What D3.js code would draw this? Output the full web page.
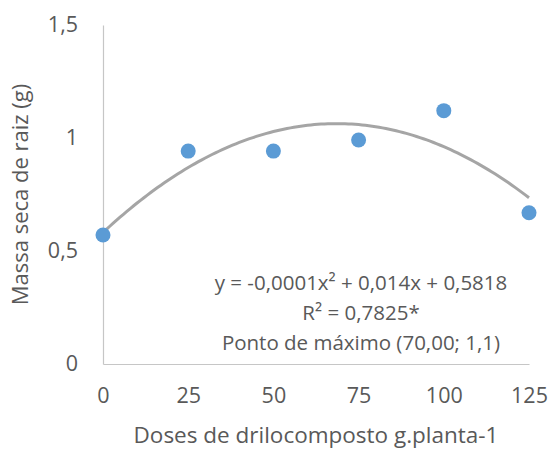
<!DOCTYPE html>
<html>
<head>
<meta charset="utf-8">
<script src="https://cdn.jsdelivr.net/npm/d3@7"></script>
<style>
  body { margin: 0; background: #fff; }
  svg text { font-family: "Open Sans", sans-serif; fill: #595959; }
</style>
</head>
<body>
<script>
// doses (g/planta) and dry root mass (g)
var doses = [0, 25, 50, 75, 100, 125];
var massa = [0.571, 0.942, 0.942, 0.991, 1.121, 0.669];
var xTicks = [0, 25, 50, 75, 100, 125];
var yTicks = [0, 0.5, 1, 1.5];
var eqLines = ["y = -0,0001x\u00b2 + 0,014x + 0,5818", "R\u00b2 = 0,7825*", "Ponto de m\u00e1ximo (70,00; 1,1)"];

var w = 551, h = 450;
var mLeft = 103, mRight = 529, mTop = 25, mBottom = 364;

var svg = d3.select("body").append("svg")
    .attr("width", w)
    .attr("height", h);

var x = d3.scaleLinear().domain([0, 125]).range([mLeft, mRight]);
var y = d3.scaleLinear().domain([0, 1.5]).range([mBottom, mTop]);

var comma = function(d){ return String(d).replace(".", ","); };

// axes
var gx = svg.append("g")
    .attr("transform", "translate(0," + mBottom + ")")
    .call(d3.axisBottom(x).tickValues(xTicks).tickSize(0).tickPadding(24).tickFormat(comma));
var gy = svg.append("g")
    .attr("transform", "translate(" + mLeft + ",0)")
    .call(d3.axisLeft(y).tickValues(yTicks).tickSize(0).tickPadding(25).tickFormat(comma));

[gx, gy].forEach(function(g){
    g.select(".domain").attr("stroke", "#c6c6c6").attr("stroke-width", 1.2);
    g.selectAll("text").style("font-size", "21.5px").attr("fill", "#595959");
});

// quadratic least squares fit (same as the Excel trendline)
function fitQuad(xs, ys){
    var n = xs.length, s = [0,0,0,0,0], t = [0,0,0];
    for (var i = 0; i < n; i++){
        for (var k = 0; k < 5; k++) s[k] += Math.pow(xs[i], k);
        for (var k = 0; k < 3; k++) t[k] += ys[i] * Math.pow(xs[i], k);
    }
    var m = [[s[0], s[1], s[2], t[0]], [s[1], s[2], s[3], t[1]], [s[2], s[3], s[4], t[2]]];
    for (var c = 0; c < 3; c++){
        for (var r = c + 1; r < 3; r++){
            var f = m[r][c] / m[c][c];
            for (var k = c; k < 4; k++) m[r][k] -= f * m[c][k];
        }
    }
    var b = [0,0,0];
    for (var r = 2; r >= 0; r--){
        var v = m[r][3];
        for (var k = r + 1; k < 3; k++) v -= m[r][k] * b[k];
        b[r] = v / m[r][r];
    }
    return b;
}
var coef = fitQuad(doses, massa);
var curve = d3.range(0, 125.01, 1).map(function(d){
    return [d, coef[0] + coef[1] * d + coef[2] * d * d];
});

svg.append("path")
    .datum(curve)
    .attr("fill", "none")
    .attr("stroke", "#a5a5a5")
    .attr("stroke-width", 3)
    .attr("d", d3.line().x(function(d){ return x(d[0]); }).y(function(d){ return y(d[1]); }));

// points
svg.selectAll("circle")
    .data(doses)
    .enter()
    .append("circle")
    .attr("cx", function(d){ return x(d); })
    .attr("cy", function(d, i){ return y(massa[i]); })
    .attr("r", 7.5)
    .attr("fill", "#5b9bd5");

// equation label
svg.selectAll(".eq")
    .data(eqLines)
    .enter()
    .append("text")
    .attr("class", "eq")
    .attr("x", 361)
    .attr("y", function(d, i){ return 290 + i * 30; })
    .attr("text-anchor", "middle")
    .style("font-size", "20.5px")
    .text(function(d){ return d; });

// axis titles
svg.append("text")
    .attr("x", (mLeft + mRight) / 2)
    .attr("y", 443)
    .attr("text-anchor", "middle")
    .style("font-size", "22.5px")
    .text("Doses de drilocomposto g.planta-1");

svg.append("text")
    .attr("transform", "translate(28," + (mTop + mBottom) / 2 + ") rotate(-90)")
    .attr("text-anchor", "middle")
    .style("font-size", "22px")
    .text("Massa seca de raiz (g)");
</script>
</body>
</html>
